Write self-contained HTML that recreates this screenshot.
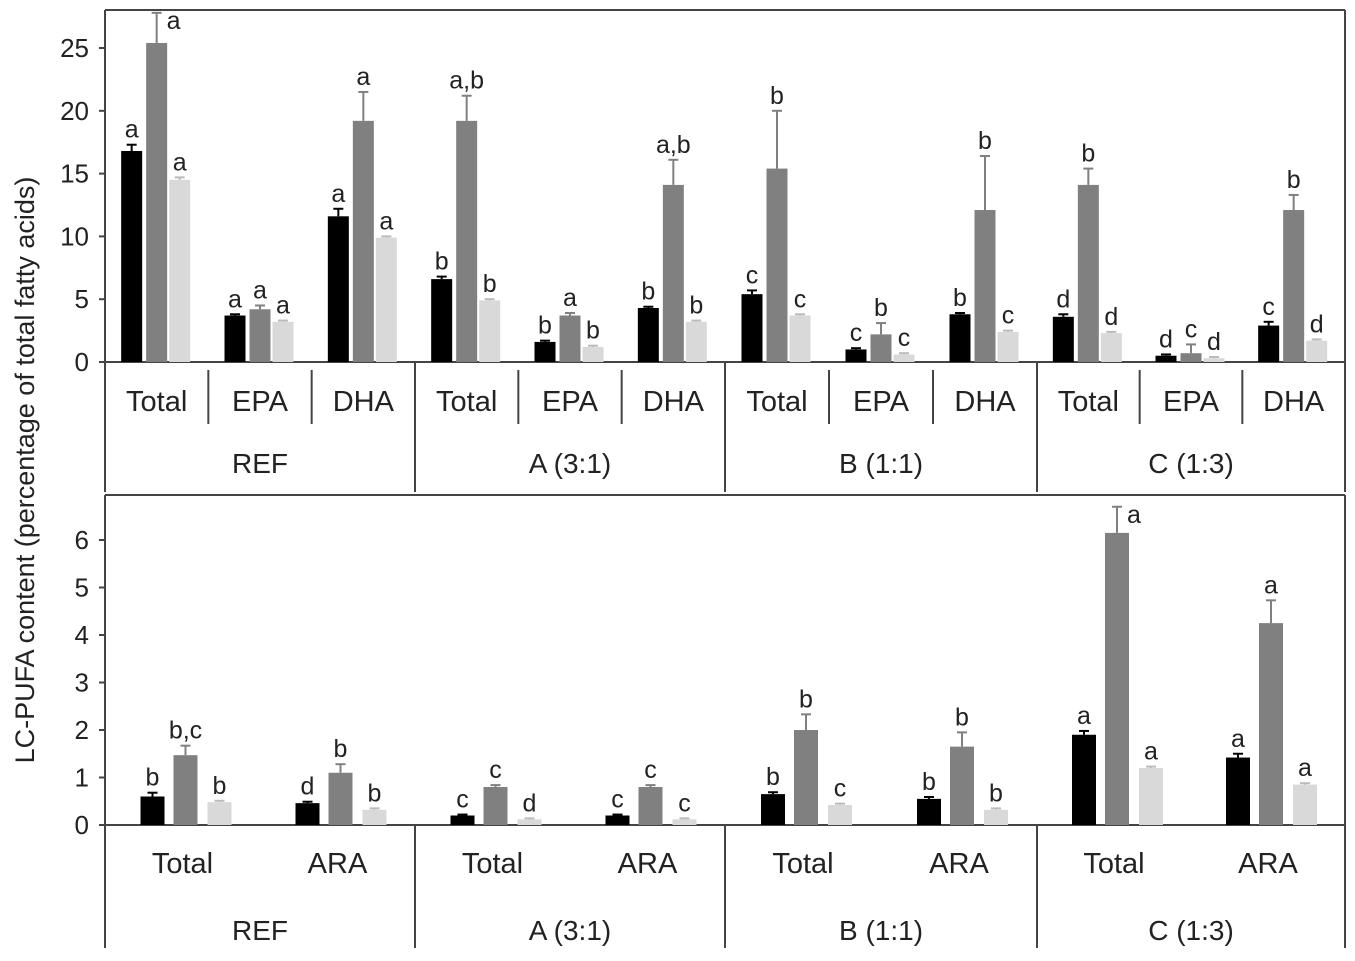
<!DOCTYPE html>
<html><head><meta charset="utf-8"><style>
body{margin:0;background:#fff;width:1355px;height:956px;overflow:hidden}
text{font-family:"Liberation Sans",sans-serif;fill:#222}
</style></head><body>
<svg id="c" width="1355" height="956"></svg>
<script>
const groups=["REF","A (3:1)","B (1:1)","C (1:3)"];
const topSubs=["Total","EPA","DHA"];
const botSubs=["Total","ARA"];
const topVals=[[[16.8,25.4,14.5],[3.7,4.2,3.2],[11.6,19.2,9.9]],
[[6.6,19.2,4.9],[1.6,3.7,1.2],[4.3,14.1,3.2]],
[[5.4,15.4,3.7],[1.0,2.2,0.6],[3.8,12.1,2.4]],
[[3.6,14.1,2.3],[0.5,0.7,0.3],[2.9,12.1,1.7]]];
const topErr=[[[0.5,2.4,0.2],[0.1,0.3,0.1],[0.6,2.3,0.1]],
[[0.2,2.0,0.1],[0.1,0.2,0.1],[0.1,2.0,0.1]],
[[0.3,4.6,0.1],[0.1,0.9,0.1],[0.1,4.3,0.1]],
[[0.2,1.3,0.1],[0.1,0.7,0.1],[0.3,1.2,0.1]]];
const topLet=[[["a","a","a"],["a","a","a"],["a","a","a"]],
[["b","a,b","b"],["b","a","b"],["b","a,b","b"]],
[["c","b","c"],["c","b","c"],["b","b","c"]],
[["d","b","d"],["d","c","d"],["c","b","d"]]];
const botVals=[[[0.6,1.47,0.48],[0.46,1.1,0.32]],
[[0.2,0.8,0.12],[0.2,0.8,0.12]],
[[0.65,2.0,0.42],[0.55,1.65,0.32]],
[[1.9,6.15,1.2],[1.42,4.25,0.85]]];
const botErr=[[[0.08,0.2,0.03],[0.03,0.18,0.03]],
[[0.02,0.04,0.02],[0.02,0.04,0.02]],
[[0.04,0.33,0.03],[0.04,0.3,0.03]],
[[0.08,0.55,0.03],[0.08,0.48,0.03]]];
const botLet=[[["b","b,c","b"],["d","b","b"]],
[["c","c","d"],["c","c","c"]],
[["b","b","c"],["b","b","b"]],
[["a","a","a"],["a","a","a"]]];
const topTicks=[0,5,10,15,20,25];
const botTicks=[0,1,2,3,4,5,6];
const colors=["#000","#808080","#d9d9d9"];
const svg=document.getElementById('c');
const NS="http://www.w3.org/2000/svg";
function el(t,a,txt){const e=document.createElementNS(NS,t);for(const k in a)e.setAttribute(k,a[k]);if(txt!==undefined)e.textContent=txt;svg.appendChild(e);return e;}
const gx=[105,415,725,1037,1345];
function panel(p){
  const {y0,y1,vals,errs,lets,subs,ticks,bw,offs,name,subY,grpY,bottom,boxTop,subSep}=p;
  const yS=v=>y0-(v)*(y0-y1);
  let e=el('line',{x1:gx[0],y1:boxTop,x2:1345,y2:boxTop,stroke:'#444','stroke-width':2});
  
  e=el('line',{x1:1345,y1:boxTop,x2:1345,y2:bottom,stroke:'#444','stroke-width':2});
  
  e=el('line',{x1:gx[0],y1:boxTop,x2:gx[0],y2:bottom,stroke:'#444','stroke-width':2});
  
  e=el('line',{x1:gx[0],y1:y0,x2:1345,y2:y0,stroke:'#444','stroke-width':2});
  
  ticks.forEach(t=>{
    const y=yS(t/p.unit);
    let l=el('line',{x1:gx[0]-6,y1:y,x2:gx[0],y2:y,stroke:'#444','stroke-width':2});
    
    let tx=el('text',{x:gx[0]-16,y:y+9,'font-size':26,'text-anchor':'end'},t);
    
  });
  groups.forEach((g,gi)=>{
    const gw=(gx[gi+1]-gx[gi]), sw=gw/subs.length;
    if(gi>0){let l=el('line',{x1:gx[gi],y1:y0,x2:gx[gi],y2:bottom,stroke:'#444','stroke-width':2});
      }
    let gt=el('text',{x:gx[gi]+gw/2,y:grpY,'font-size':28,'text-anchor':'middle'},g);
    
    subs.forEach((s,si)=>{
      const cx=gx[gi]+sw*(si+0.5);
      if(si>0&&subSep){let l=el('line',{x1:gx[gi]+sw*si,y1:y0+8,x2:gx[gi]+sw*si,y2:y0+62,stroke:'#444','stroke-width':2});
        }
      let st=el('text',{x:cx,y:subY,'font-size':29,'text-anchor':'middle'},s);
      
      vals[gi][si].forEach((v,k)=>{
        const bx=cx+offs[k]-bw/2, top=yS(v/p.unit), et=yS((v+errs[gi][si][k])/p.unit);
        let r=el('rect',{x:bx,y:top,width:bw,height:y0-top,fill:colors[k]});
        
        
        const ec=k==0?'#000':(k==1?'#808080':'#bbb');
        let ln=el('line',{x1:cx+offs[k],y1:top,x2:cx+offs[k],y2:et,stroke:ec,'stroke-width':2});
        
        let cp=el('line',{x1:cx+offs[k]-5,y1:et,x2:cx+offs[k]+5,y2:et,stroke:ec,'stroke-width':2});
        
        let lx=cx+offs[k], ly=et-7;
        if(ly-20<boxTop){lx=cx+offs[k]+10;ly=et+16;}
        let lt=el('text',{x:lx,y:ly,'font-size':25,'text-anchor':ly===et-7?'middle':'start'},lets[gi][si][k]);
        
      });
    });
  });
}
panel({name:'top',y0:362,y1:48,unit:25,boxTop:10,vals:topVals,errs:topErr,lets:topLet,subs:topSubs,ticks:topTicks,bw:21,offs:[-25,0,23],subY:411,grpY:473,bottom:492,subSep:true});
panel({name:'bottom',y0:825,y1:540,unit:6,boxTop:495,vals:botVals,errs:botErr,lets:botLet,subs:botSubs,ticks:botTicks,bw:24,offs:[-30,3,37],subY:873,grpY:940,bottom:948,subSep:false});
let yt=el('text',{x:0,y:0,'font-size':27,'text-anchor':'middle',transform:'translate(34,470) rotate(-90)'},'LC-PUFA content (percentage of total fatty acids)');

</script></body></html>
